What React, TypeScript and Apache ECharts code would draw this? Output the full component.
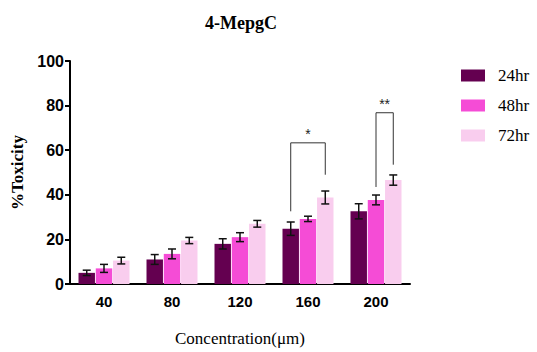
import React, { useEffect, useRef } from "react";
import * as echarts from "echarts";

const categories = ["40", "80", "120", "160", "200"];
const seriesNames = ["24hr", "48hr", "72hr"];
const values24 = [5, 11, 18, 24.8, 32.6];
const values48 = [7, 13.5, 21, 29.2, 37.7];
const values72 = [10.5, 19.5, 27, 38.8, 46.6];
const err24 = [1.2, 2.2, 2.3, 3, 3.4];
const err48 = [1.8, 2.2, 2, 1.2, 2.2];
const err72 = [1.5, 1.4, 1.5, 2.9, 2.3];
const colors = ["#640050", "#F54CD6", "#F9CDEE"];
// brackets: [categoryIndex, topValue, leftLegBottom, rightLegBottom, leftBar, rightBar, label]
const brackets: [number, number, number, number, number, number, string][] = [
  [3, 63.3, 32.6, 49, 0, 2, "*"],
  [4, 76.8, 43.5, 53.5, 1, 2, "**"],
];

const SERIF = "'Liberation Serif', 'Times New Roman', serif";
const SANS = "'Liberation Sans', Arial, sans-serif";
const CAT_GAP = 0.25;
const BAR_GAP = 0.05;

function barOffset(catWidth: number, idx: number) {
  const band = catWidth * (1 - CAT_GAP);
  const bw = band / (3 + 2 * BAR_GAP);
  return (idx - 1) * bw * (1 + BAR_GAP);
}

export default function App() {
  const ref = useRef<HTMLDivElement>(null);
  useEffect(() => {
    if (!ref.current) return;
    const chart = echarts.init(ref.current, undefined, { renderer: "svg" });
    const allVals = [values24, values48, values72];
    const allErr = [err24, err48, err72];

    const barSeries = seriesNames.map((name, i) => ({
      name,
      type: "bar",
      data: allVals[i],
      itemStyle: { color: colors[i] },
      barCategoryGap: CAT_GAP * 100 + "%",
      barGap: BAR_GAP * 100 + "%",
      z: 2,
    }));

    const errSeries = seriesNames.map((name, i) => ({
      type: "custom",
      name: name + "-err",
      z: 5,
      data: allVals[i].map((v, c) => [c, v, allErr[i][c]]),
      renderItem: (params: any, api: any) => {
        const c = api.value(0);
        const v = api.value(1);
        const e = api.value(2);
        const catW = api.size([1, 0])[0];
        const x = api.coord([c, v])[0] + barOffset(catW, i);
        const yHi = api.coord([c, v + e])[1];
        const yLo = api.coord([c, v - e])[1];
        const cap = 4;
        const st = { stroke: "#111", lineWidth: 1.5 };
        return {
          type: "group",
          children: [
            { type: "line", shape: { x1: x, y1: yHi, x2: x, y2: yLo }, style: st },
            { type: "line", shape: { x1: x - cap, y1: yHi, x2: x + cap, y2: yHi }, style: st },
            { type: "line", shape: { x1: x - cap, y1: yLo, x2: x + cap, y2: yLo }, style: st },
          ],
        };
      },
      tooltip: { show: false },
    }));

    const bracketSeries = {
      type: "custom",
      name: "brackets",
      z: 6,
      data: brackets.map((b) => [b[0], b[1], b[2], b[3], b[4], b[5], b[6]]),
      renderItem: (params: any, api: any) => {
        const b = brackets[params.dataIndex];
        const c = b[0];
        const catW = api.size([1, 0])[0];
        const cx = api.coord([c, b[1]])[0];
        const xl = cx + barOffset(catW, b[4]);
        const xr = cx + barOffset(catW, b[5]);
        const yt = api.coord([c, b[1]])[1];
        const yl = api.coord([c, b[2]])[1];
        const yr = api.coord([c, b[3]])[1];
        return {
          type: "group",
          children: [
            {
              type: "polyline",
              shape: { points: [[xl, yl], [xl, yt], [xr, yt], [xr, yr]] },
              style: { stroke: "#333", lineWidth: 1, fill: "none" },
            },
            {
              type: "text",
              style: {
                text: b[6],
                x: (xl + xr) / 2,
                y: yt - 2,
                align: "center",
                verticalAlign: "bottom",
                fill: "#222",
                fontFamily: SANS,
                fontSize: 14,
              },
            },
          ],
        };
      },
    };

    chart.setOption({
      animation: false,
      backgroundColor: "#fff",
      title: {
        text: "4-MepgC",
        left: 236,
        top: 9,
        textAlign: "center",
        textStyle: {
          fontFamily: SERIF,
          fontWeight: "bold",
          fontSize: 18,
          color: "#000",
        },
      },
      legend: {
        data: seriesNames,
        orient: "vertical",
        left: 461,
        top: 67,
        padding: 0,
        itemWidth: 24,
        itemHeight: 12,
        itemGap: 13,
        icon: "rect",
        textStyle: { fontFamily: SERIF, fontSize: 17, color: "#000", padding: [0, 0, 0, 8] },
      },
      grid: { left: 70, right: 127, top: 61, bottom: 65, containLabel: false },
      xAxis: {
        type: "category",
        data: categories,
        name: "Concentration(μm)",
        nameLocation: "middle",
        nameGap: 46,
        nameTextStyle: { fontFamily: SERIF, fontSize: 17, color: "#000" },
        axisLine: { lineStyle: { color: "#000", width: 2 } },
        axisTick: { alignWithLabel: true, length: 5, lineStyle: { color: "#000", width: 2 } },
        axisLabel: {
          fontFamily: SANS,
          fontWeight: "bold",
          fontSize: 15,
          color: "#000",
          margin: 10,
        },
      },
      yAxis: {
        type: "value",
        min: 0,
        max: 100,
        interval: 20,
        name: "%Toxicity",
        nameLocation: "middle",
        nameGap: 44,
        nameRotate: 90,
        nameTextStyle: { fontFamily: SERIF, fontWeight: "bold", fontSize: 17, color: "#000" },
        axisLine: { show: true, lineStyle: { color: "#000", width: 2 } },
        axisTick: { show: true, length: 5, lineStyle: { color: "#000", width: 2 } },
        splitLine: { show: false },
        axisLabel: {
          fontFamily: SANS,
          fontWeight: "bold",
          fontSize: 16,
          color: "#000",
          margin: 6,
        },
      },
      series: [...barSeries, ...errSeries, bracketSeries],
    });
    return () => chart.dispose();
  }, []);
  return (
    <div
      ref={ref}
      style={{ position: "fixed", left: 0, top: 0, width: 537, height: 352 }}
    />
  );
}
